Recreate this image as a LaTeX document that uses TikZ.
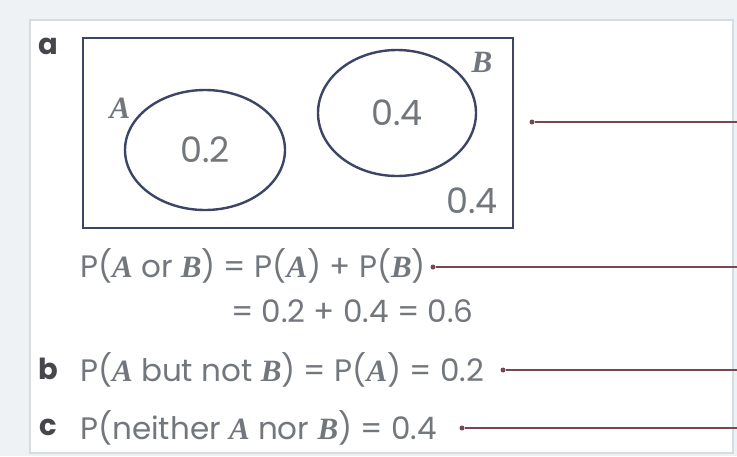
\documentclass[tikz,border=0pt]{standalone}
\usepackage{fontspec}
\setmainfont{Poppins}
\newfontfamily\varfont{Liberation Serif}
\usetikzlibrary{shapes.geometric}
\definecolor{panelbg}{HTML}{EEF2F5}
\definecolor{framegray}{HTML}{D5DCE2}
\definecolor{boxblue}{HTML}{3C4566}
\definecolor{txtgray}{HTML}{72767D}
\definecolor{lblgray}{HTML}{45474C}
\definecolor{leadred}{HTML}{7A4652}
\newcommand{\vA}{{\varfont\bfseries\itshape A}}
\newcommand{\vB}{{\varfont\bfseries\itshape B}}
\tikzset{
  venn/.style={draw=boxblue, line width=2.4pt, ellipse, inner sep=0pt},
  val/.style={text=txtgray, font=\fontsize{35}{40}\selectfont},
  eqn/.style={text=txtgray, anchor=west, inner sep=0pt, font=\fontsize{31}{36}\selectfont},
  part/.style={text=lblgray, inner sep=0pt, font=\fontsize{29}{34}\selectfont\bfseries},
  dotpt/.style={circle, fill=leadred, inner sep=0pt, minimum size=5pt},
  leader/.style={draw=leadred, line width=1.6pt}
}
\begin{document}
\begin{tikzpicture}[x=1pt, y=-1pt]
    \useasboundingbox (0,0) rectangle (737,456);
    % panel
    \fill[panelbg] (0,0) rectangle (737,456);
    \draw[framegray, fill=white, line width=1.5pt] (30,20) rectangle (733,453);

    % part a: Venn diagram
    \node[part] (parta) at (48,46) {a};
    \node[draw=boxblue, line width=2.6pt, minimum width=430pt, minimum height=190pt] (box) at (298,133) {};
    \node[venn, minimum width=160pt, minimum height=120pt] (setA) at (205,150) {};
    \node[venn, minimum width=158pt, minimum height=126pt] (setB) at (397,113) {};
    \node[val] (pA) at (setA) {0.2};
    \node[val] (pB) at (setB) {0.4};
    \node[val] (pN) at (472,201) {0.4};
    \node[text=txtgray, font=\fontsize{31}{34}\selectfont] (nameA) at (120,108) {\vA};
    \node[text=txtgray, font=\fontsize{31}{34}\selectfont] (nameB) at (482,62) {\vB};

    % P(A or B)
    \node[eqn] (orAB) at (80,266) {P(\vA{} or \vB) = P(\vA) + P(\vB)};
    \node[eqn] (orsum) at (231,311) {= 0.2 + 0.4 = 0.6};

    % part b
    \node[part] (partb) at (48,369) {b};
    \node[eqn] (butnot) at (80,370) {P(\vA{} but not \vB) = P(\vA) = 0.2};

    % part c
    \node[part] (partc) at (48,427) {c};
    \node[eqn] (neither) at (80,428) {P(neither \vA{} nor \vB) = 0.4};

    % leader lines
    \node[dotpt] (dota) at (532,122) {};
    \node[dotpt] (dot1) at (433,267) {};
    \node[dotpt] (dotb) at (503,370) {};
    \node[dotpt] (dotc) at (462,428) {};
    \coordinate (enda) at (737,122);
    \coordinate (end1) at (737,267);
    \coordinate (endb) at (737,370);
    \coordinate (endc) at (737,428);
    \draw[leader] (dota) -- (enda);
    \draw[leader] (dot1) -- (end1);
    \draw[leader] (dotb) -- (endb);
    \draw[leader] (dotc) -- (endc);
\end{tikzpicture}
\end{document}
